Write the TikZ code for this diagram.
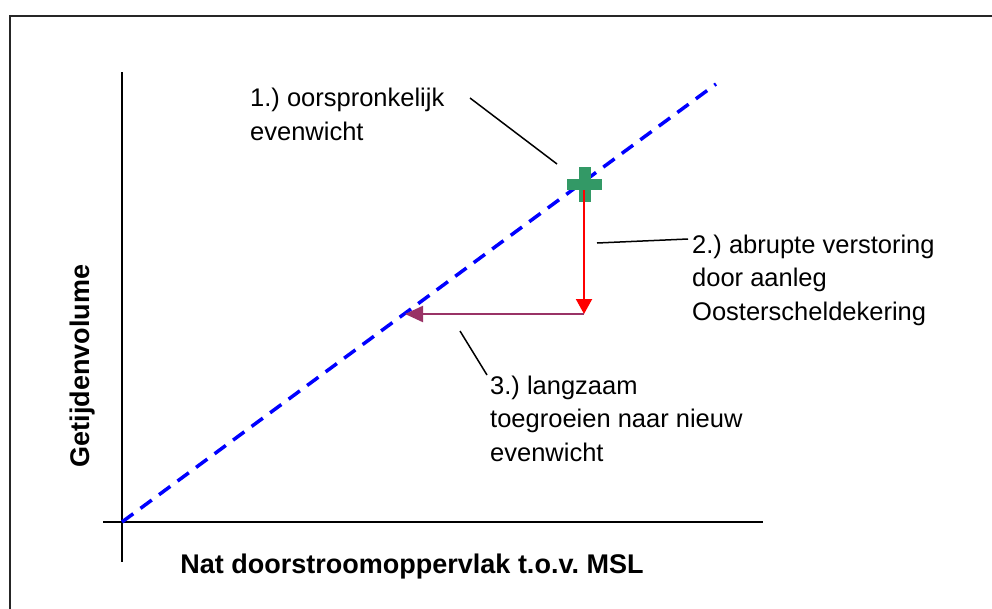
\documentclass[tikz,border=0pt]{standalone}
\usepackage{fontspec}
\setmainfont{Liberation Sans}
\frenchspacing
\usetikzlibrary{arrows.meta}
\definecolor{plusgreen}{HTML}{339966}
\definecolor{arrowpurple}{HTML}{993366}
\definecolor{dashblue}{HTML}{0000FF}
\tikzset{
  lbl/.style={anchor=base west, align=left, inner sep=0pt, font=\fontsize{25.5}{33.5}\selectfont},
  axislbl/.style={inner sep=0pt, font=\bfseries\fontsize{27}{32}\selectfont},
  leader/.style={draw=black, line width=1.5pt},
  axisline/.style={draw=black, line width=1.6pt},
}
\begin{document}
\begin{tikzpicture}[x=1pt,y=-1pt]
\useasboundingbox (0,0) rectangle (992,608);
% frame
\draw[line width=2pt, draw=black!85] (9.5,15.5) rectangle (1010,630);
% axes
\coordinate (ytop) at (122,72);
\coordinate (ybot) at (122,562);
\coordinate (xleft) at (103,522);
\coordinate (xright) at (763,522);
\draw[axisline] (ytop) -- (ybot);
\draw[axisline] (xleft) -- (xright);
% dashed equilibrium line
\coordinate (origin) at (122,522);
\coordinate (lineend) at (716,84);
\draw[dashblue, line width=3.5pt, dash pattern=on 14pt off 9pt] (origin) -- (lineend);
% original equilibrium marker
\coordinate (eq) at (584.5,184.5);
\fill[plusgreen] ([xshift=-17.5pt,yshift=5.5pt]eq) rectangle ([xshift=17.5pt,yshift=-5.5pt]eq);
\fill[plusgreen] ([xshift=-6pt,yshift=17.5pt]eq) rectangle ([xshift=6pt,yshift=-17.5pt]eq);
% arrows
\coordinate (rstart) at (584,190);
\coordinate (corner) at (584,314);
\coordinate (newpt) at (405,314);
\draw[red, line width=2pt, -{Triangle[length=15pt,width=16pt]}] (rstart) -- (corner);
\draw[arrowpurple, line width=2.2pt, -{Triangle[length=18pt,width=16pt]}] (corner) -- (newpt);
% labels (base anchor = last line)
\node[lbl] (l1) at (250,140) {1.) oorspronkelijk\\evenwicht};
\node[lbl] (l2) at (692,320) {2.) abrupte verstoring\\door aanleg\\Oosterscheldekering};
\node[lbl] (l3) at (490,461) {3.) langzaam\\toegroeien naar nieuw\\evenwicht};
% leader lines
\coordinate (a1) at (470,98);
\coordinate (b1) at (557,164);
\coordinate (a2) at (597,243);
\coordinate (b2) at (688,239);
\coordinate (a3) at (460,331);
\coordinate (b3) at (487,375);
\draw[leader] (a1) -- (b1);
\draw[leader] (a2) -- (b2);
\draw[leader] (a3) -- (b3);
% axis labels
\node[axislbl, anchor=base] (xl) at (412,573) {Nat doorstroomoppervlak t.o.v. MSL};
\node[axislbl, rotate=90, anchor=base] (yl) at (89,366) {Getijdenvolume};
\end{tikzpicture}
\end{document}
